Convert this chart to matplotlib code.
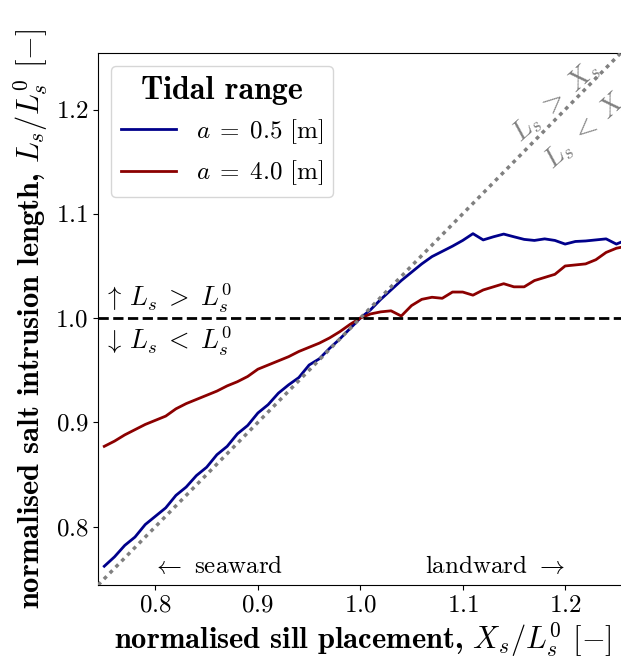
import numpy as np
import matplotlib
import matplotlib.pyplot as plt

matplotlib.use('Agg')

plt.rcParams['font.family'] = 'serif'
plt.rcParams['font.serif'] = ['cmr10']
plt.rcParams['mathtext.fontset'] = 'cm'
plt.rcParams['axes.formatter.use_mathtext'] = True

# sill placement X_s / L_s^0
x_sill = [0.75, 0.76, 0.77, 0.78, 0.79, 0.80, 0.81, 0.82, 0.83, 0.84,
          0.85, 0.86, 0.87, 0.88, 0.89, 0.90, 0.91, 0.92, 0.93, 0.94,
          0.95, 0.96, 0.97, 0.98, 0.99, 1.00, 1.01, 1.02, 1.03, 1.04,
          1.05, 1.06, 1.07, 1.08, 1.09, 1.10, 1.11, 1.12, 1.13, 1.14,
          1.15, 1.16, 1.17, 1.18, 1.19, 1.20, 1.21, 1.22, 1.23, 1.24,
          1.25, 1.26]

# tidal range a = 0.5 m
ls_a05 = [0.762, 0.771, 0.782, 0.790, 0.802, 0.810, 0.818, 0.830, 0.838, 0.849,
          0.857, 0.869, 0.877, 0.889, 0.897, 0.909, 0.917, 0.928, 0.936, 0.943,
          0.955, 0.961, 0.971, 0.980, 0.990, 1.000, 1.008, 1.018, 1.027, 1.036,
          1.044, 1.052, 1.059, 1.064, 1.069, 1.0745, 1.081, 1.075, 1.078, 1.0806,
          1.078, 1.0755, 1.0745, 1.076, 1.0745, 1.071, 1.0735, 1.074, 1.075, 1.076,
          1.071, 1.075]

# tidal range a = 4.0 m
ls_a40 = [0.877, 0.882, 0.888, 0.893, 0.898, 0.902, 0.906, 0.913, 0.918, 0.922,
          0.926, 0.930, 0.935, 0.939, 0.944, 0.951, 0.955, 0.959, 0.963, 0.968,
          0.972, 0.976, 0.981, 0.987, 0.994, 1.000, 1.004, 1.006, 1.007, 1.002,
          1.012, 1.018, 1.020, 1.019, 1.025, 1.025, 1.022, 1.027, 1.030, 1.033,
          1.030, 1.030, 1.036, 1.039, 1.042, 1.050, 1.051, 1.052, 1.056, 1.063,
          1.067, 1.069]

labels = [r'$a\;=\;0.5$ [m]', r'$a\;=\;4.0$ [m]']
colors = ['darkblue', 'darkred']

fig = plt.figure(figsize=(6.21, 6.62), dpi=100)
ax = fig.add_axes([0.158, 0.1163, 0.851, 0.8032])

for y, lab, c in zip([ls_a05, ls_a40], labels, colors):
    ax.plot(x_sill, y, color=c, lw=2, label=lab)

ax.axline((1, 1), slope=1, color='gray', ls=(0, (1.1, 1.3)), lw=2.5, zorder=3)
ax.axhline(1.0, color='k', ls='--', lw=2, zorder=3)

ax.set_xlim(0.744, 1.26)
ax.set_ylim(0.744, 1.254)
ax.set_xticks([0.8, 0.9, 1.0, 1.1, 1.2])
ax.set_yticks([0.8, 0.9, 1.0, 1.1, 1.2])
ax.tick_params(labelsize=18)

ax.set_xlabel(r'normalised sill placement, $X_s/L_s^0$ $[-]$', family='cmb10', fontsize=22, labelpad=2)
ax.set_ylabel(r'normalised salt intrusion length, $L_s/L_s^0$ $[-]$', family='cmb10', fontsize=22, labelpad=4)

ax.text(0.749, 1.019, r'$\uparrow\, L_s\; >\; L_s^0$', fontsize=19, va='center', ha='left')
ax.text(0.749, 0.978, r'$\downarrow\, L_s\; <\; L_s^0$', fontsize=19, va='center', ha='left')
ax.text(0.797, 0.762, r'$\leftarrow$ seaward', fontsize=18, va='center', ha='left')
ax.text(1.2, 0.762, r'landward $\rightarrow$', fontsize=18, va='center', ha='right')

ax.text(1.191, 1.2076, r'$L_s\; >\; X_s$', fontsize=20, color='gray', rotation=42,
        ha='center', va='center', rotation_mode='anchor')
ax.text(1.222, 1.182, r'$L_s\; <\; X_s$', fontsize=20, color='gray', rotation=42,
        ha='center', va='center', rotation_mode='anchor')

leg = ax.legend(loc='upper left', title='Tidal range', fontsize=18, fancybox=True,
                handlelength=2.2, borderaxespad=0.5)
leg.get_title().set_fontfamily('cmb10')
leg.get_title().set_fontsize(23)

fig.savefig('out.png', dpi=100)
